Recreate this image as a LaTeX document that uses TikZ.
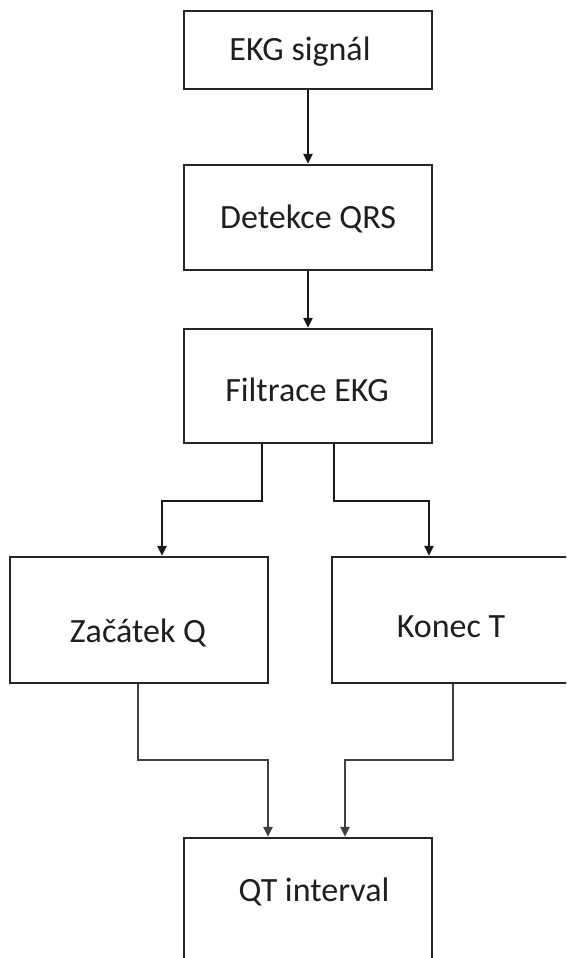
\documentclass[tikz,border=0pt]{standalone}
\usepackage{fontspec}
\setmainfont{Carlito}
\usetikzlibrary{arrows.meta}
\begin{document}
\begin{tikzpicture}[x=1pt,y=-1pt,
  box/.style={draw=black!85, line width=2.2pt, fill=white, minimum width=248pt, inner sep=0pt},
  txt/.style={anchor=base, inner sep=0pt, font=\fontsize{34}{40}\selectfont, text=black!88},
  conn/.style={draw=black!90, line width=2pt, -{Triangle[width=9pt,length=10pt]}},
  connb/.style={draw=black!75, line width=2pt, -{Triangle[width=9pt,length=10pt]}}]
\useasboundingbox (0,0) rectangle (566,958);
\clip (0,0) rectangle (566,958);
\fill[white] (0,0) rectangle (566,958);
% boxes
\node[box, minimum height=78pt] (b1) at (308,49.8) {};
\node[box, minimum height=105pt] (b2) at (308,217.5) {};
\node[box, minimum height=114pt] (b3) at (308,386) {};
\node[box, minimum width=258pt, minimum height=126pt] (b4) at (139,620) {};
\node[box, minimum width=258pt, minimum height=126pt] (b5) at (461,620) {};
\node[box, minimum height=130pt] (b6) at (308,903) {};
% texts
\node[txt] (t1) at (300,61) {EKG signál};
\node[txt] (t2) at (308,228.5) {Detekce QRS};
\node[txt] (t3) at (307,401) {Filtrace EKG};
\node[txt] (t4) at (138,642) {Začátek Q};
\node[txt] (t5) at (451,637) {Konec T};
\node[txt] (t6) at (314,901) {QT interval};
% connectors
\draw[conn] (b1.south) -- (b2.north);
\draw[conn] (b2.south) -- (b3.north);
\draw[conn] (b3.south -| 262,0) |- (162,501) -- (162,0 |- b4.north);
\draw[conn] (b3.south -| 334,0) |- (429,501) -- (429,0 |- b5.north);
\draw[connb] (b4.south -| 138,0) |- (268,760) -- (268,0 |- b6.north);
\draw[connb] (b5.south -| 453,0) |- (345,760) -- (345,0 |- b6.north);
\end{tikzpicture}
\end{document}
